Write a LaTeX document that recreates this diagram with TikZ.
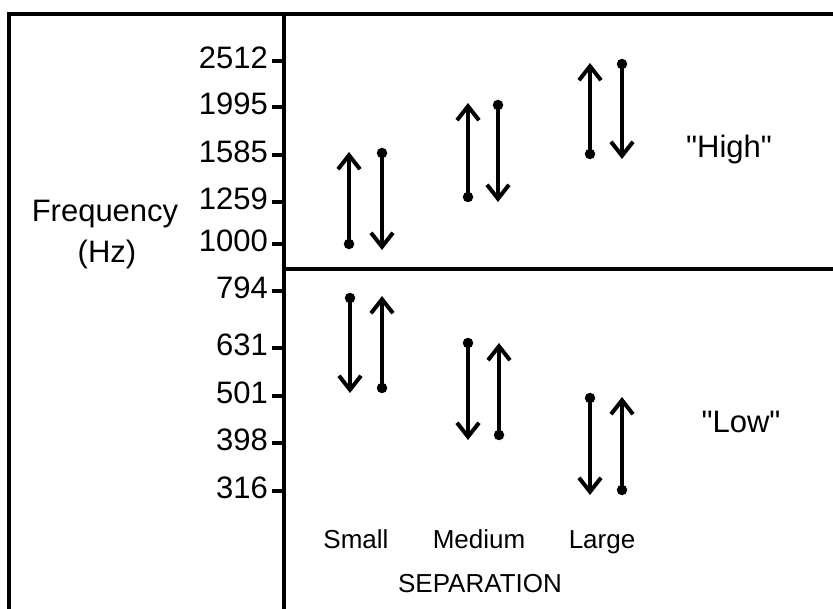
\documentclass[tikz,border=0pt]{standalone}
\usepackage{fontspec}
\setmainfont{Liberation Sans}[Ligatures=TeXOff]
\usetikzlibrary{arrows.meta}
\begin{document}
\begin{tikzpicture}[x=1pt,y=-1pt,
  frame/.style={line width=4pt},
  tickline/.style={line width=3.5pt},
  ticklab/.style={anchor=east,inner sep=0pt,font=\fontsize{31}{37}\selectfont},
  biglab/.style={anchor=base,inner sep=0pt,font=\fontsize{31}{37}\selectfont},
  catlab/.style={anchor=base,inner sep=0pt,font=\fontsize{26}{31}\selectfont},
  arr/.style={line width=4pt,-{Straight Barb[length=14pt,width=22pt,line width=4pt]}},
  dotmark/.style={circle,fill=black,inner sep=0pt,minimum size=10.5pt}]
\useasboundingbox (0,0) rectangle (833,609);
% frame
\coordinate (fbl) at (9,612);
\coordinate (ftl) at (9,14);
\coordinate (ftr) at (836,14);
\coordinate (atop) at (284,12);
\coordinate (abot) at (284,612);
\coordinate (dl) at (284,269);
\coordinate (dr) at (836,269);
\draw[frame] (fbl) -- (ftl) -- (ftr);
\draw[frame] (atop) -- (abot);
\draw[frame] (dl) -- (dr);
% ticks and labels
\foreach \v/\y in {2512/61,1995/107,1585/155,1259/202,1000/244,794/291,631/348,501/396,398/443,316/491}{
  \coordinate (t\v a) at (272,\y);
  \coordinate (t\v b) at (284,\y);
  \draw[tickline] (t\v a) -- (t\v b);
  \node[ticklab] (l\v) at (268,\y-3) {\v};
}
\node[biglab] (freq) at (105,222) {Frequency};
\node[biglab] (hz) at (107,263) {(Hz)};
\node[biglab] (high) at (729,158) {"High"};
\node[biglab] (low) at (741,433) {"Low"};
\node[catlab] (small) at (356,548) {Small};
\node[catlab] (medium) at (479,548) {Medium};
\node[catlab] (large) at (602,548) {Large};
\node[catlab] (sep) at (480,592) {SEPARATION};
% arrows: name/x/start/end
\foreach \n/\x/\s/\e in {hsu/349/244/152, hsd/382/153/250, hmu/468/197/103, hmd/498/105/202, hlu/590/154/63, hld/622/64/159,
  lsd/350/298/393, lsu/382/388/296, lmd/468/343/440, lmu/499/435/343, lld/590/398/495, llu/622/490/397}{
  \node[dotmark] (\n s) at (\x,\s) {};
  \coordinate (\n e) at (\x,\e);
  \draw[arr] (\n s.center) -- (\n e);
}
\end{tikzpicture}
\end{document}
